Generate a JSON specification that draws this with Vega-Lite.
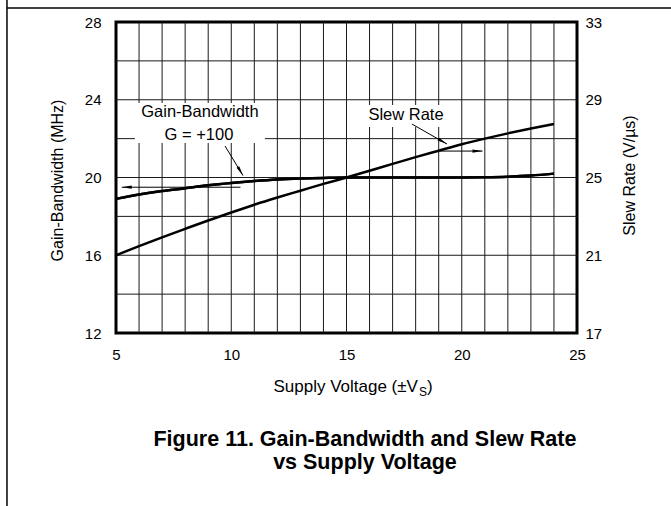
{
  "$schema": "https://vega.github.io/schema/vega-lite/v6.json",
  "width": 461,
  "height": 311,
  "autosize": {"type": "none"},
  "padding": {"left": 116, "top": 22, "right": 94, "bottom": 173},
  "background": "white",
  "config": {
    "font": "Liberation Sans",
    "view": {"stroke": "black", "strokeWidth": 3},
    "axis": {
      "grid": false, "ticks": false, "domain": false, "labelOverlap": false, "labelFlush": false,
      "labelFont": "Liberation Sans", "labelFontSize": 15, "labelColor": "black",
      "titleFont": "Liberation Sans", "titleFontSize": 16, "titleFontWeight": "normal", "titleColor": "black"
    }
  },
  "datasets": {
    "curves": [
      {"v": 5, "g": 18.9, "s": 21.0},
      {"v": 6, "g": 19.12, "s": 21.47},
      {"v": 7, "g": 19.3, "s": 21.92},
      {"v": 8, "g": 19.45, "s": 22.36},
      {"v": 9, "g": 19.6, "s": 22.79},
      {"v": 10, "g": 19.72, "s": 23.2},
      {"v": 11, "g": 19.82, "s": 23.6},
      {"v": 12, "g": 19.9, "s": 23.97},
      {"v": 13, "g": 19.95, "s": 24.32},
      {"v": 14, "g": 19.98, "s": 24.67},
      {"v": 15, "g": 20.0, "s": 25.0},
      {"v": 16, "g": 20.0, "s": 25.35},
      {"v": 17, "g": 20.0, "s": 25.7},
      {"v": 18, "g": 20.0, "s": 26.05},
      {"v": 19, "g": 20.0, "s": 26.38},
      {"v": 20, "g": 20.0, "s": 26.71},
      {"v": 21, "g": 20.01, "s": 27.0},
      {"v": 22, "g": 20.04, "s": 27.27},
      {"v": 23, "g": 20.1, "s": 27.52},
      {"v": 24, "g": 20.2, "s": 27.75}
    ],
    "gridx": [
      {"v": 6}, {"v": 7}, {"v": 8}, {"v": 9}, {"v": 10}, {"v": 11}, {"v": 12}, {"v": 13}, {"v": 14}, {"v": 15},
      {"v": 16}, {"v": 17}, {"v": 18}, {"v": 19}, {"v": 20}, {"v": 21}, {"v": 22}, {"v": 23}, {"v": 24}
    ],
    "gridy": [
      {"g": 14}, {"g": 16}, {"g": 18}, {"g": 20}, {"g": 22}, {"g": 24}, {"g": 26}
    ],
    "boxes": [
      {"x1": 5.82, "x2": 11.46, "y1": 21.77, "y2": 23.83},
      {"x1": 15.8, "x2": 19.36, "y1": 22.6, "y2": 23.73}
    ],
    "notes": [
      {"t": "Gain-Bandwidth", "x": 8.64, "y": 23.37},
      {"t": "G = +100", "x": 8.6, "y": 22.19},
      {"t": "Slew Rate", "x": 17.58, "y": 23.21}
    ],
    "arrows": [
      {"id": "a1", "x1": 9.73, "y1": 21.62, "x2": 10.51, "y2": 20.1},
      {"id": "a2", "x1": 10.4, "y1": 19.5, "x2": 5.25, "y2": 19.5},
      {"id": "a3", "x1": 17.84, "y1": 22.75, "x2": 19.36, "y2": 21.72},
      {"id": "a4", "x1": 19.06, "y1": 21.36, "x2": 20.9, "y2": 21.36}
    ],
    "xtitle": [
      {"part": "main", "t": "Supply Voltage (±V", "x": 18.1, "y": 8.96},
      {"part": "sub", "t": "S", "x": 18.1, "y": 8.96},
      {"part": "close", "t": ")", "x": 18.1, "y": 8.96}
    ],
    "caption": [
      {"t": "Figure 11. Gain-Bandwidth and Slew Rate", "x": 15.8, "y": 6.19},
      {"t": "vs Supply Voltage", "x": 15.8, "y": 5.0}
    ],
    "frame": [
      {"x1": 0.27, "x2": 0.27, "y1": 2.9, "y2": 29.2},
      {"x1": 0.27, "x2": 29.2, "y1": 28.72, "y2": 28.72}
    ]
  },
  "layer": [
    {
      "layer": [
        {
          "data": {"name": "curves"},
          "mark": {"type": "line", "color": "black", "strokeWidth": 2.5, "interpolate": "monotone"},
          "encoding": {
            "x": {"field": "v", "type": "quantitative", "scale": {"domain": [5, 25], "nice": false, "zero": false},
              "axis": {"values": [5, 10, 15, 20, 25], "labelOverlap": false, "labelFlush": false, "labelPadding": 14, "labelFontSize": 15, "title": null}},
            "y": {"field": "g", "type": "quantitative", "scale": {"domain": [12, 28], "nice": false, "zero": false},
              "axis": {"values": [12, 16, 20, 24, 28], "labelOverlap": false, "labelPadding": 15, "labelFontSize": 15,
                "title": "Gain-Bandwidth (MHz)", "titleFontSize": 16, "titleAngle": -90, "titleX": -59, "titleY": 158,
                "titleAlign": "center", "titleBaseline": "middle"}}
          }
        },
        {
          "data": {"name": "gridx"},
          "mark": {"type": "rule", "color": "#1a1a1a", "strokeWidth": 1},
          "encoding": {
            "x": {"field": "v", "type": "quantitative"}
          }
        },
        {
          "data": {"name": "gridy"},
          "mark": {"type": "rule", "color": "#1a1a1a", "strokeWidth": 1},
          "encoding": {
            "y": {"field": "g", "type": "quantitative"}
          }
        },
        {
          "data": {"name": "boxes"},
          "mark": {"type": "rect", "fill": "white", "stroke": null},
          "encoding": {
            "x": {"field": "x1", "type": "quantitative"},
            "x2": {"field": "x2"},
            "y": {"field": "y1", "type": "quantitative"},
            "y2": {"field": "y2"}
          }
        },
        {
          "data": {"name": "curves"},
          "mark": {"type": "line", "color": "black", "strokeWidth": 2.5, "interpolate": "monotone"},
          "encoding": {
            "x": {"field": "v", "type": "quantitative"},
            "y": {"field": "g", "type": "quantitative"}
          }
        },
        {
          "data": {"name": "arrows"},
          "mark": {"type": "rule", "color": "black", "strokeWidth": 1},
          "encoding": {
            "x": {"field": "x1", "type": "quantitative"},
            "x2": {"field": "x2"},
            "y": {"field": "y1", "type": "quantitative"},
            "y2": {"field": "y2"}
          }
        },
        {
          "data": {"name": "arrows"},
          "transform": [{"filter": "datum.id === 'a1'"}],
          "mark": {"type": "point", "filled": true, "color": "black", "opacity": 1, "size": 64, "strokeWidth": 0, "shape": "M0,0L0.4,2.5L-0.4,2.5Z", "angle": 149},
          "encoding": {
            "x": {"field": "x2", "type": "quantitative"},
            "y": {"field": "y2", "type": "quantitative"}
          }
        },
        {
          "data": {"name": "arrows"},
          "transform": [{"filter": "datum.id === 'a2'"}],
          "mark": {"type": "point", "filled": true, "color": "black", "opacity": 1, "size": 64, "strokeWidth": 0, "shape": "M0,0L0.4,2.5L-0.4,2.5Z", "angle": 270},
          "encoding": {
            "x": {"field": "x2", "type": "quantitative"},
            "y": {"field": "y2", "type": "quantitative"}
          }
        },
        {
          "data": {"name": "arrows"},
          "transform": [{"filter": "datum.id === 'a3'"}],
          "mark": {"type": "point", "filled": true, "color": "black", "opacity": 1, "size": 64, "strokeWidth": 0, "shape": "M0,0L0.4,2.5L-0.4,2.5Z", "angle": 120},
          "encoding": {
            "x": {"field": "x2", "type": "quantitative"},
            "y": {"field": "y2", "type": "quantitative"}
          }
        },
        {
          "data": {"name": "arrows"},
          "transform": [{"filter": "datum.id === 'a4'"}],
          "mark": {"type": "point", "filled": true, "color": "black", "opacity": 1, "size": 64, "strokeWidth": 0, "shape": "M0,0L0.4,2.5L-0.4,2.5Z", "angle": 90},
          "encoding": {
            "x": {"field": "x2", "type": "quantitative"},
            "y": {"field": "y2", "type": "quantitative"}
          }
        },
        {
          "data": {"name": "notes"},
          "mark": {"type": "text", "fontSize": 16.5, "color": "black", "align": "center", "baseline": "middle"},
          "encoding": {
            "x": {"field": "x", "type": "quantitative"},
            "y": {"field": "y", "type": "quantitative"},
            "text": {"field": "t"}
          }
        },
        {
          "data": {"name": "xtitle"},
          "transform": [{"filter": "datum.part === 'main'"}],
          "mark": {"type": "text", "fontSize": 17, "color": "black", "align": "right", "baseline": "alphabetic"},
          "encoding": {
            "x": {"field": "x", "type": "quantitative"},
            "y": {"field": "y", "type": "quantitative"},
            "text": {"field": "t"}
          }
        },
        {
          "data": {"name": "xtitle"},
          "transform": [{"filter": "datum.part === 'sub'"}],
          "mark": {"type": "text", "fontSize": 12, "color": "black", "align": "left", "baseline": "alphabetic", "dx": 1, "dy": 4},
          "encoding": {
            "x": {"field": "x", "type": "quantitative"},
            "y": {"field": "y", "type": "quantitative"},
            "text": {"field": "t"}
          }
        },
        {
          "data": {"name": "xtitle"},
          "transform": [{"filter": "datum.part === 'close'"}],
          "mark": {"type": "text", "fontSize": 17, "color": "black", "align": "left", "baseline": "alphabetic", "dx": 9},
          "encoding": {
            "x": {"field": "x", "type": "quantitative"},
            "y": {"field": "y", "type": "quantitative"},
            "text": {"field": "t"}
          }
        },
        {
          "data": {"name": "caption"},
          "mark": {"type": "text", "fontSize": 21.5, "fontWeight": "bold", "color": "black", "align": "center", "baseline": "alphabetic"},
          "encoding": {
            "x": {"field": "x", "type": "quantitative"},
            "y": {"field": "y", "type": "quantitative"},
            "text": {"field": "t"}
          }
        },
        {
          "data": {"name": "frame"},
          "mark": {"type": "rule", "color": "black", "strokeWidth": 1.5},
          "encoding": {
            "x": {"field": "x1", "type": "quantitative"},
            "x2": {"field": "x2"},
            "y": {"field": "y1", "type": "quantitative"},
            "y2": {"field": "y2"}
          }
        }
      ]
    },
    {
      "data": {"name": "curves"},
      "mark": {"type": "line", "color": "black", "strokeWidth": 2.5, "interpolate": "monotone"},
      "encoding": {
        "x": {"field": "v", "type": "quantitative", "scale": {"domain": [5, 25], "nice": false, "zero": false},
          "axis": {"values": [5, 10, 15, 20, 25], "labelOverlap": false, "labelFlush": false, "labelPadding": 14, "labelFontSize": 15, "title": null}},
        "y": {"field": "s", "type": "quantitative", "scale": {"domain": [17, 33], "nice": false, "zero": false},
          "axis": {"orient": "right", "values": [17, 21, 25, 29, 33], "labelOverlap": false, "labelPadding": 8, "labelFontSize": 15,
            "title": "Slew Rate (V/µs)", "titleFontSize": 16, "titleAngle": -90, "titleX": 52, "titleY": 153,
            "titleAlign": "center", "titleBaseline": "middle"}}
      }
    }
  ],
  "resolve": {"scale": {"y": "independent"}}
}
